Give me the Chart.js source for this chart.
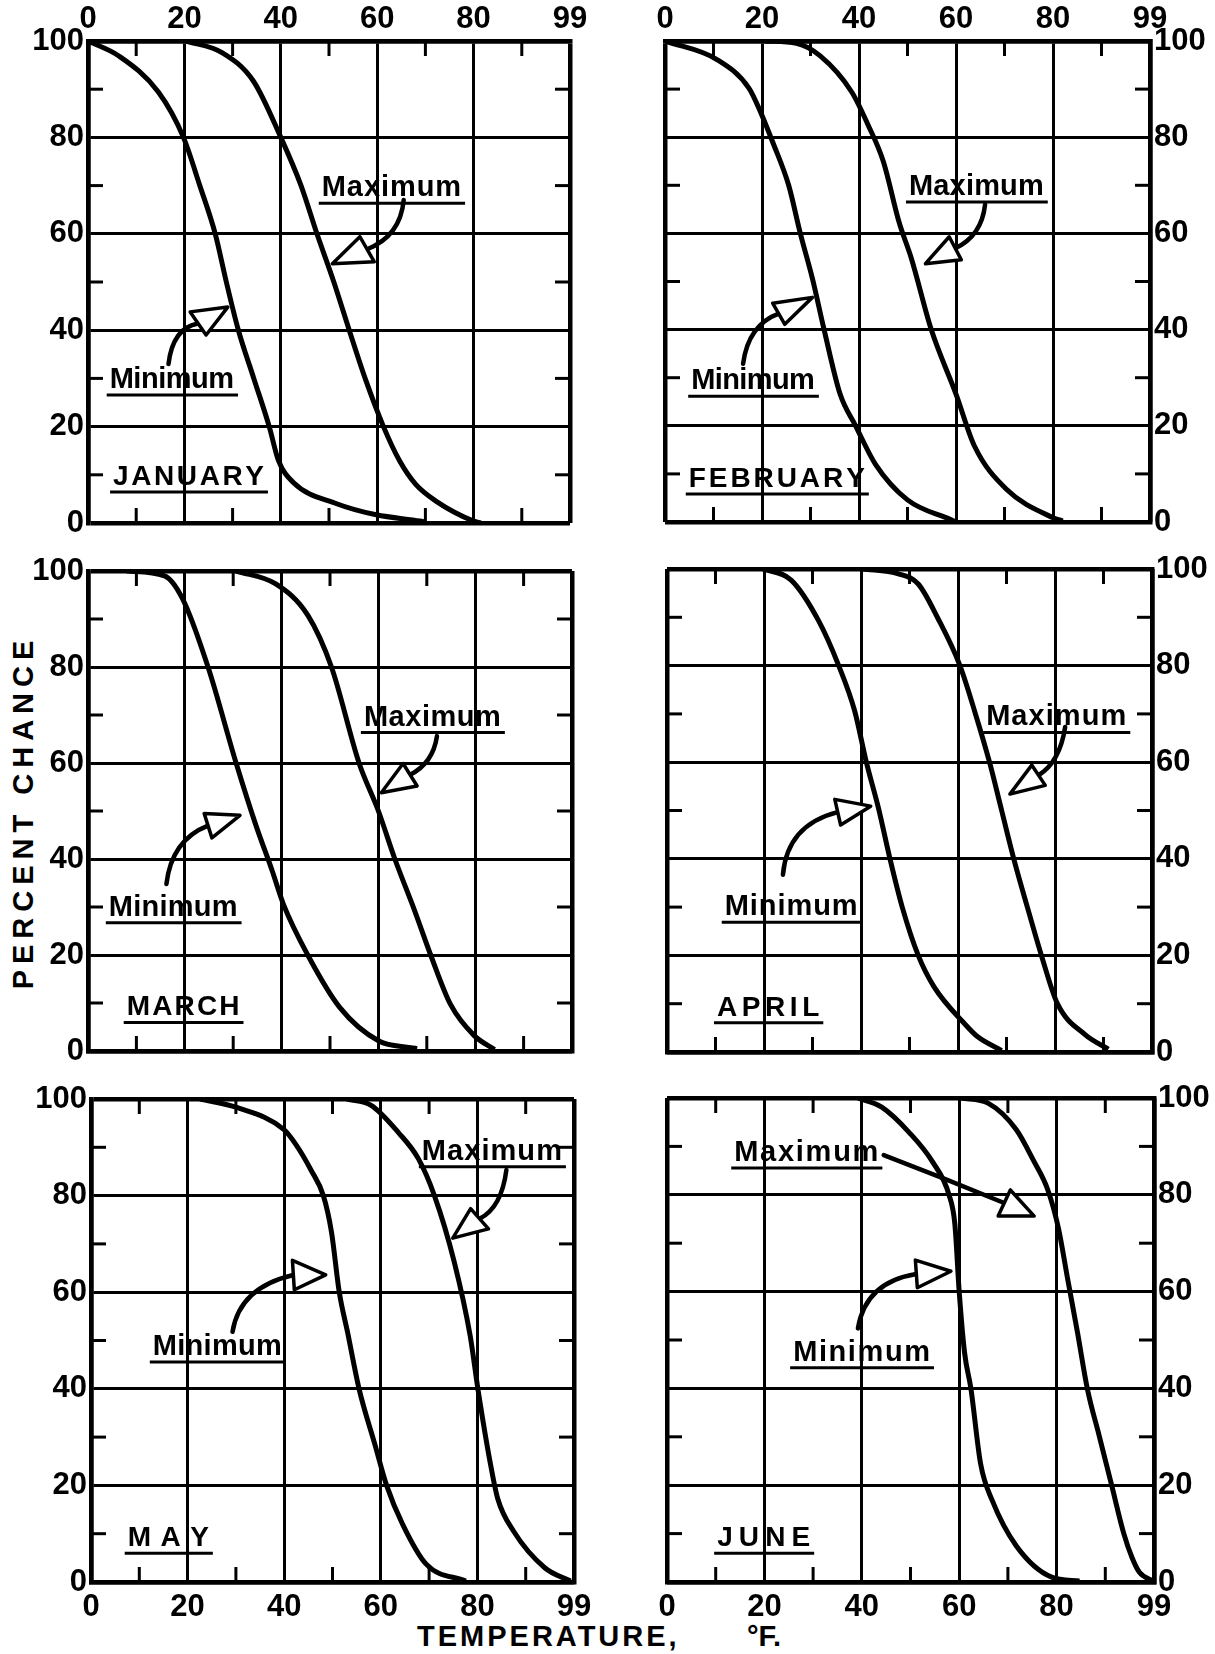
<!DOCTYPE html>
<html>
<head>
<meta charset="utf-8">
<script src="https://cdn.jsdelivr.net/npm/chart.js@4.4.1/dist/chart.umd.min.js"></script>
<style>
  html, body { margin: 0; padding: 0; background: #fff; }
  #page { position: relative; width: 1215px; height: 1654px; overflow: hidden; background: #fff; }
  #page canvas { position: absolute; left: 0; top: 0; }
  .axis-title { position: absolute; font-family: 'Liberation Sans', Arial, sans-serif; font-size: 29px;
                font-weight: bold; line-height: 32px; color: #000; white-space: nowrap; }
</style>
</head>
<body>
<div id="page">
  <div class="axis-title" style="left:23px; top:812px; letter-spacing:6px; transform:translate(-50%,-50%) rotate(-90deg);">PERCENT CHANCE</div>
  <div class="axis-title" style="left:417px; top:1620px; letter-spacing:3px;">TEMPERATURE,</div>
  <div class="axis-title" style="left:747px; top:1620px;">°F.</div>
</div>
<script>
// Chance (percent) that the daily minimum / maximum temperature exceeds a given value, by month.
const janMinTemp = [0, 6.4, 14.6, 19.8, 23.2, 26.4, 28.7, 31.2, 34.4, 37.6, 39.5, 42.6, 51.6, 59.8, 68.9, 70];
const janMinPct  = [100, 96.9, 89.4, 80, 70, 60, 50, 40, 30, 20, 13, 8.4, 4, 1.7, 0.4, 0.2];
const janMaxTemp = [20.4, 27.8, 34.3, 40, 44.2, 47.5, 51, 54.2, 57.5, 61.3, 64.7, 68, 72.1, 80, 81.5];
const janMaxPct  = [100, 97.6, 91.7, 80, 70, 60, 50, 40, 30, 20, 12.8, 8, 4.6, 0.4, 0];

const febMinTemp = [0, 10.8, 17.3, 19.8, 22.2, 25.5, 27.9, 30.4, 32.8, 36.1, 39.3, 43.4, 50, 58.9, 60];
const febMinPct  = [100, 96.1, 90.2, 85, 79, 70, 60, 50.6, 40, 26.6, 20, 12, 4.6, 0.5, 0];
const febMaxTemp = [20.6, 27.1, 32, 38.5, 41.8, 45, 48.3, 50.8, 54.9, 60, 63.8, 70.4, 80, 82];
const febMaxPct  = [100, 99.5, 96.9, 89.4, 82.7, 75, 62.2, 54.8, 40, 26.6, 15.8, 6.8, 0.9, 0.2];

const marMinTemp = [8, 15.8, 19.5, 24.8, 30.6, 34.7, 38, 40.4, 45.4, 52, 60.1, 66.7, 68];
const marMinPct  = [100, 99, 94.3, 80, 60, 47, 37.7, 30.5, 20, 9.1, 2.1, 0.7, 0.5];
const marMaxTemp = [30.6, 38.8, 45.4, 50.3, 56, 60, 63.4, 67.5, 70.8, 74.9, 79.8, 84];
const marMaxPct  = [100, 97.3, 90.8, 80, 60, 50, 40, 29.2, 20, 9.7, 3.2, 0.3];

const aprMinTemp = [19.8, 25.6, 31.3, 35.4, 38.7, 41.1, 43.6, 46, 48.5, 51.8, 55, 61.6, 64, 69];
const aprMinPct  = [100, 97.7, 89.2, 80, 70.6, 60, 50.5, 39.9, 30, 20, 13.6, 5.6, 3.2, 0.3];
const aprMaxTemp = [40.3, 47.7, 51.8, 55.9, 60.4, 63.6, 66.5, 69, 71.5, 74.3, 77.2, 80.5, 86.2, 91];
const aprMaxPct  = [100, 99, 96.9, 89.7, 80, 70, 60, 50, 40, 30, 20, 10, 3.6, 0.6];

const mayMinTemp = [22.6, 30, 39.9, 42.4, 45.6, 48.1, 49.8, 51.4, 53.1, 55.5, 58.8, 61.2, 64.5, 69.4, 77.6];
const mayMinPct  = [100, 98.3, 93.7, 90.6, 85.2, 80, 72.4, 60, 51.8, 40, 28.4, 20, 12, 3.7, 0.2];
const mayMaxTemp = [53, 58, 63.7, 67.8, 71.1, 75.2, 78.5, 80.1, 82.6, 84.2, 87.5, 94, 99.3];
const mayMaxPct  = [100, 98.7, 93, 87.6, 80, 66.3, 51, 40, 25, 17.3, 10.5, 2.9, 0.2];

const junMinTemp = [39.2, 44.1, 49.8, 54.6, 57.9, 59.1, 60, 61.1, 62.4, 64.4, 66.8, 71.7, 79, 84.7];
const junMinPct  = [100, 98.1, 92.8, 86.7, 80, 74, 60, 47.4, 40, 24.4, 16.8, 7.5, 1, 0.2];
const junMaxTemp = [60.3, 66, 71.7, 75.3, 78.2, 80.4, 82.2, 84.3, 86.3, 88.8, 91.3, 93.8, 95.5, 97, 99.8];
const junMaxPct  = [100, 98.9, 93.5, 87, 81, 73, 63, 51.5, 40, 30, 20, 10, 5, 2, 0.2];

// Axis ticks
const tempTickValues = [0, 20, 40, 60, 80, 100];
const tempTickLabels = ['0', '20', '40', '60', '80', '99'];
const pctTickValues  = [0, 20, 40, 60, 80, 100];
const pctTickLabels  = ['0', '20', '40', '60', '80', '100'];
const minorTicks     = [10, 30, 50, 70, 90];

const PAGE_W = 1215, PAGE_H = 1654;
const INK = '#000';
const FONT = "'Liberation Sans', Arial, sans-serif";
const Y_AXIS_W = 62, X_AXIS_H = 38;

// Panel layout: plot box [left, top, right, bottom] in page pixels, axis sides,
// and the hand lettering (text spans and arrows in data units).
const panels = [
  { name: 'JANUARY', box: [88, 41, 570, 523], ySide: 'left', xSide: 'top',
    min: [janMinTemp, janMinPct], max: [janMaxTemp, janMaxPct],
    month: { x0: 5.2, x1: 36.5, base: 7.9 },
    maxText: { x0: 48.5, x1: 77.4, base: 67.8 },
    minText: { x0: 4.5, x1: 30.3, base: 28.0 },
    maxArrow: { tail: [65.5, 67.0], ctrl: [64.8, 59.5], w1: [56.4, 59.4], w2: [59.4, 54.2], tip: [50.7, 53.8] },
    minArrow: { tail: [16.7, 33.0], ctrl: [17.6, 40.5], w1: [21.2, 43.8], w2: [24.5, 39.0], tip: [29.0, 44.8] } },
  { name: 'FEBRUARY', box: [665, 41, 1150, 522], ySide: 'right', xSide: 'top',
    min: [febMinTemp, febMinPct], max: [febMaxTemp, febMaxPct],
    month: { x0: 4.9, x1: 41.2, base: 7.3 },
    maxText: { x0: 50.3, x1: 78.1, base: 68.0 },
    minText: { x0: 5.4, x1: 30.9, base: 27.6 },
    maxArrow: { tail: [66.0, 66.0], ctrl: [65.3, 59.5], w1: [58.6, 59.3], w2: [61.1, 54.5], tip: [53.7, 53.7] },
    minArrow: { tail: [16.1, 32.9], ctrl: [17.2, 41.0], w1: [22.2, 45.5], w2: [24.7, 41.1], tip: [30.4, 46.7] } },
  { name: 'MARCH', box: [88, 571, 572, 1051], ySide: 'left', xSide: 'none',
    min: [marMinTemp, marMinPct], max: [marMaxTemp, marMaxPct],
    month: { x0: 8.0, x1: 31.3, base: 7.4 },
    maxText: { x0: 57.0, x1: 85.3, base: 67.8 },
    minText: { x0: 4.3, x1: 30.9, base: 28.2 },
    maxArrow: { tail: [72.1, 65.6], ctrl: [71.3, 60.0], w1: [65.1, 59.9], w2: [68.0, 55.2], tip: [60.6, 53.8] },
    minArrow: { tail: [16.2, 34.8], ctrl: [17.3, 44.0], w1: [24.0, 49.5], w2: [25.6, 44.4], tip: [31.4, 49.1] } },
  { name: 'APRIL', box: [667, 569, 1152, 1052], ySide: 'right', xSide: 'none',
    min: [aprMinTemp, aprMinPct], max: [aprMaxTemp, aprMaxPct],
    month: { x0: 10.3, x1: 31.4, base: 7.5 },
    maxText: { x0: 65.8, x1: 94.7, base: 67.6 },
    minText: { x0: 11.9, x1: 39.3, base: 28.3 },
    maxArrow: { tail: [82.1, 67.3], ctrl: [81.0, 60.0], w1: [75.2, 59.4], w2: [78.0, 55.2], tip: [70.7, 53.4] },
    minArrow: { tail: [23.9, 36.7], ctrl: [24.8, 47.0], w1: [34.6, 52.3], w2: [35.8, 47.0], tip: [42.0, 50.9] } },
  { name: 'MAY', box: [91, 1099, 574, 1582], ySide: 'left', xSide: 'bottom',
    min: [mayMinTemp, mayMinPct], max: [mayMaxTemp, mayMaxPct],
    month: { x0: 7.6, x1: 24.4, base: 7.4 },
    maxText: { x0: 68.5, x1: 97.5, base: 87.4 },
    minText: { x0: 12.8, x1: 39.5, base: 47.0 },
    maxArrow: { tail: [86.0, 85.3], ctrl: [85.0, 77.5], w1: [78.6, 77.3], w2: [82.3, 73.1], tip: [74.9, 71.2] },
    minArrow: { tail: [29.3, 51.8], ctrl: [30.8, 61.0], w1: [41.7, 66.6], w2: [42.1, 60.5], tip: [48.6, 63.6] } },
  { name: 'JUNE', box: [667, 1098, 1154, 1582], ySide: 'right', xSide: 'bottom',
    min: [junMinTemp, junMinPct], max: [junMaxTemp, junMaxPct],
    month: { x0: 10.3, x1: 29.4, base: 7.4 },
    maxText: { x0: 13.8, x1: 43.4, base: 87.0 },
    minText: { x0: 25.9, x1: 54.0, base: 45.7 },
    maxArrow: { tail: [44.5, 88.2], ctrl: [57.0, 83.4], w1: [70.5, 81.0], w2: [68.0, 75.6], tip: [75.4, 75.6] },
    minArrow: { tail: [39.2, 52.4], ctrl: [40.8, 62.0], w1: [51.0, 66.5], w2: [51.4, 60.8], tip: [58.3, 64.2] } }
];

function toPoints(xs, ys) { return xs.map((x, i) => ({ x: x, y: ys[i] })); }

function labelFrom(values, labels) {
  return v => { const i = values.indexOf(v); return i >= 0 ? labels[i] : ''; };
}
function gridWidth(c) {
  const v = c.tick.value;
  if (v === 0 || v === 100) return 4.5;
  return v % 20 === 0 ? 3 : 0;
}
function gridColor(c) { return c.tick.value % 20 === 0 ? INK : 'rgba(0,0,0,0)'; }

// Letters spread evenly between two x positions, like hand lettering.
function spacedText(ctx, str, left, right, base) {
  const chars = [...str];
  const widths = chars.map(ch => ctx.measureText(ch).width);
  const natural = widths.reduce((s, w) => s + w, 0);
  const gap = chars.length > 1 ? ((right - left) - natural) / (chars.length - 1) : 0;
  let x = left;
  chars.forEach((ch, i) => { ctx.fillText(ch, x, base); x += widths[i] + gap; });
}

function underlinedLabel(ctx, xs, ys, str, spec, font) {
  const l = xs.getPixelForValue(spec.x0), r = xs.getPixelForValue(spec.x1);
  const b = ys.getPixelForValue(spec.base);
  ctx.font = font;
  ctx.textAlign = 'left';
  ctx.textBaseline = 'alphabetic';
  ctx.fillStyle = INK;
  spacedText(ctx, str, l, r, b);
  ctx.lineWidth = 3;
  ctx.beginPath();
  ctx.moveTo(l - 3, b + 7);
  ctx.lineTo(r + 4, b + 7);
  ctx.stroke();
}

function arrow(ctx, xs, ys, a) {
  const P = p => [xs.getPixelForValue(p[0]), ys.getPixelForValue(p[1])];
  const tail = P(a.tail), ctrl = P(a.ctrl), w1 = P(a.w1), w2 = P(a.w2), tip = P(a.tip);
  const base = [(w1[0] + w2[0]) / 2, (w1[1] + w2[1]) / 2];
  ctx.lineWidth = 4.5;
  ctx.lineCap = 'round';
  ctx.beginPath();
  ctx.moveTo(tail[0], tail[1]);
  ctx.quadraticCurveTo(ctrl[0], ctrl[1], base[0], base[1]);
  ctx.stroke();
  ctx.lineWidth = 3.5;
  ctx.lineJoin = 'round';
  ctx.beginPath();
  ctx.moveTo(tip[0], tip[1]);
  ctx.lineTo(w1[0], w1[1]);
  ctx.lineTo(w2[0], w2[1]);
  ctx.closePath();
  ctx.fillStyle = '#fff';
  ctx.fill();
  ctx.stroke();
}

// Inward minor ticks on all four sides, plus the panel lettering.
const panelMarks = {
  id: 'panelMarks',
  afterDatasetsDraw(chart, args, opts) {
    const p = opts.panel;
    const { ctx, chartArea: a } = chart;
    const xs = chart.scales.x, ys = chart.scales.y;
    ctx.save();
    ctx.strokeStyle = INK;
    ctx.lineWidth = 3;
    ctx.lineCap = 'butt';
    const seg = (x1, y1, x2, y2) => { ctx.beginPath(); ctx.moveTo(x1, y1); ctx.lineTo(x2, y2); ctx.stroke(); };
    minorTicks.forEach(v => {
      const px = xs.getPixelForValue(v), py = ys.getPixelForValue(v);
      seg(px, a.top, px, a.top + 15);
      seg(px, a.bottom, px, a.bottom - 15);
      seg(a.left, py, a.left + 15, py);
      seg(a.right, py, a.right - 15, py);
    });
    underlinedLabel(ctx, xs, ys, p.name, p.month, `bold 28px ${FONT}`);
    underlinedLabel(ctx, xs, ys, 'Maximum', p.maxText, `bold 29px ${FONT}`);
    underlinedLabel(ctx, xs, ys, 'Minimum', p.minText, `bold 29px ${FONT}`);
    arrow(ctx, xs, ys, p.maxArrow);
    arrow(ctx, xs, ys, p.minArrow);
    ctx.restore();
  }
};

const page = document.getElementById('page');

panels.forEach(p => {
  const [L, T, R, B] = p.box;
  const canvas = document.createElement('canvas');
  canvas.width = PAGE_W;
  canvas.height = PAGE_H;
  canvas.style.width = PAGE_W + 'px';
  canvas.style.height = PAGE_H + 'px';
  page.appendChild(canvas);

  const xHas = p.xSide !== 'none';
  const padding = {
    left: p.ySide === 'left' ? L - Y_AXIS_W : L,
    right: p.ySide === 'right' ? PAGE_W - R - Y_AXIS_W : PAGE_W - R,
    top: p.xSide === 'top' ? T - X_AXIS_H : T,
    bottom: p.xSide === 'bottom' ? PAGE_H - B - X_AXIS_H : PAGE_H - B
  };

  const lineStyle = { borderColor: INK, borderWidth: 5, pointRadius: 0, fill: false,
                      cubicInterpolationMode: 'monotone' };
  const tickFont = { family: FONT, size: 31, weight: 'bold' };

  new Chart(canvas, {
    type: 'line',
    data: {
      datasets: [
        Object.assign({ label: 'Minimum', data: toPoints(p.min[0], p.min[1]) }, lineStyle),
        Object.assign({ label: 'Maximum', data: toPoints(p.max[0], p.max[1]) }, lineStyle)
      ]
    },
    options: {
      responsive: false,
      animation: false,
      devicePixelRatio: 1,
      events: [],
      layout: { padding: padding },
      plugins: { legend: { display: false }, tooltip: { enabled: false }, panelMarks: { panel: p } },
      scales: {
        x: {
          type: 'linear', min: 0, max: 100,
          position: p.xSide === 'top' ? 'top' : 'bottom',
          ticks: { display: xHas, stepSize: 10, autoSkip: false, maxRotation: 0, color: INK,
                   padding: p.xSide === 'top' ? 3 : 7,
                   font: tickFont, callback: labelFrom(tempTickValues, tempTickLabels) },
          grid: { drawTicks: false, color: gridColor, lineWidth: gridWidth },
          border: { display: true, color: INK, width: 4.5 },
          afterFit: s => { s.height = xHas ? X_AXIS_H : 0; }
        },
        y: {
          type: 'linear', min: 0, max: 100,
          position: p.ySide,
          ticks: { stepSize: 10, autoSkip: false, color: INK, padding: 4,
                   font: tickFont, callback: labelFrom(pctTickValues, pctTickLabels) },
          grid: { drawTicks: false, color: gridColor, lineWidth: gridWidth },
          border: { display: true, color: INK, width: 4.5 },
          afterFit: s => { s.width = Y_AXIS_W; }
        }
      }
    },
    plugins: [panelMarks]
  });
});
</script>
</body>
</html>
